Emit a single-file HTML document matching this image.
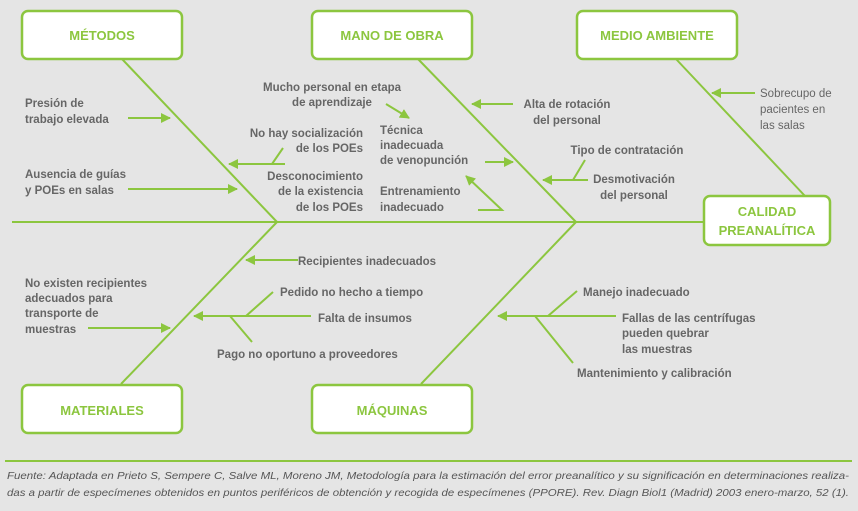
<!DOCTYPE html>
<html><head><meta charset="utf-8"><style>
body{margin:0;background:#e5e5e5;}
svg{display:block;}
text{font-family:"Liberation Sans",sans-serif;}
.t{font-size:11.5px;fill:#666;font-weight:bold;}
.h{font-size:13px;fill:#8cc63f;font-weight:bold;text-anchor:middle;}
.b{fill:#fff;stroke:#8cc63f;stroke-width:2.5;}
.l{stroke:#8cc63f;stroke-width:2;fill:none;}
.f{font-size:10.5px;fill:#555;font-style:italic;}
</style></head><body>
<svg width="858" height="511" viewBox="0 0 858 511">
<defs><marker id="a" viewBox="0 0 10 10" refX="9" refY="5" markerWidth="5" markerHeight="5" orient="auto"><path d="M0,0L10,5L0,10z" fill="#8cc63f"/></marker></defs>
<rect width="858" height="511" fill="#e5e5e5"/>
<line class="l" x1="12" y1="222" x2="704" y2="222"/>
<line class="l" x1="122" y1="59" x2="277" y2="222"/>
<line class="l" x1="418" y1="59" x2="576" y2="222"/>
<line class="l" x1="676" y1="59" x2="805" y2="196"/>
<line class="l" x1="121" y1="384" x2="277" y2="222"/>
<line class="l" x1="421" y1="384" x2="576" y2="222"/>
<rect class="b" x="22" y="11" width="160" height="48" rx="6"/>
<rect class="b" x="312" y="11" width="160" height="48" rx="6"/>
<rect class="b" x="577" y="11" width="160" height="48" rx="6"/>
<rect class="b" x="704" y="196" width="126" height="49" rx="6"/>
<rect class="b" x="22" y="385" width="160" height="48" rx="6"/>
<rect class="b" x="312" y="385" width="160" height="48" rx="6"/>
<text class="h" x="102" y="40">MÉTODOS</text>
<text class="h" x="392" y="40">MANO DE OBRA</text>
<text class="h" x="657" y="40">MEDIO AMBIENTE</text>
<text class="h" x="767" y="216">CALIDAD</text>
<text class="h" x="767" y="235">PREANALÍTICA</text>
<text class="h" x="102" y="415">MATERIALES</text>
<text class="h" x="392" y="415">MÁQUINAS</text>
<line class="l" x1="128" y1="118" x2="170" y2="118" marker-end="url(#a)"/>
<line class="l" x1="128" y1="189" x2="237" y2="189" marker-end="url(#a)"/>
<line class="l" x1="285" y1="164" x2="229" y2="164" marker-end="url(#a)"/>
<line class="l" x1="283" y1="148" x2="272" y2="164"/>
<line class="l" x1="386" y1="104" x2="409" y2="118" marker-end="url(#a)"/>
<line class="l" x1="485" y1="162" x2="513" y2="162" marker-end="url(#a)"/>
<polyline class="l" points="478,210 502,210 466,176" marker-end="url(#a)"/>
<line class="l" x1="513" y1="104" x2="472" y2="104" marker-end="url(#a)"/>
<line class="l" x1="755" y1="93" x2="712" y2="93" marker-end="url(#a)"/>
<line class="l" x1="588" y1="180" x2="543" y2="180" marker-end="url(#a)"/>
<line class="l" x1="585" y1="160" x2="573" y2="180"/>
<line class="l" x1="298" y1="260" x2="246" y2="260" marker-end="url(#a)"/>
<line class="l" x1="311" y1="316" x2="194" y2="316" marker-end="url(#a)"/>
<line class="l" x1="273" y1="292" x2="246" y2="316"/>
<line class="l" x1="230" y1="316" x2="252" y2="342"/>
<line class="l" x1="88" y1="328" x2="170" y2="328" marker-end="url(#a)"/>
<line class="l" x1="616" y1="316" x2="498" y2="316" marker-end="url(#a)"/>
<line class="l" x1="577" y1="291" x2="548" y2="316"/>
<line class="l" x1="535" y1="316" x2="573" y2="363"/>
<text class="t" x="25" y="107">Presión de</text>
<text class="t" x="25" y="123">trabajo elevada</text>
<text class="t" x="25" y="178">Ausencia de guías</text>
<text class="t" x="25" y="194">y POEs en salas</text>
<text class="t" x="363" y="137" text-anchor="end">No hay socialización</text>
<text class="t" x="363" y="152" text-anchor="end">de los POEs</text>
<text class="t" x="363" y="180" text-anchor="end">Desconocimiento</text>
<text class="t" x="363" y="195" text-anchor="end">de la existencia</text>
<text class="t" x="363" y="211" text-anchor="end">de los POEs</text>
<text class="t" x="332" y="91" text-anchor="middle">Mucho personal en etapa</text>
<text class="t" x="332" y="106" text-anchor="middle">de aprendizaje</text>
<text class="t" x="380" y="134">Técnica</text>
<text class="t" x="380" y="149">inadecuada</text>
<text class="t" x="380" y="164">de venopunción</text>
<text class="t" x="380" y="195">Entrenamiento</text>
<text class="t" x="380" y="211">inadecuado</text>
<text class="t" x="567" y="108" text-anchor="middle">Alta de rotación</text>
<text class="t" x="567" y="124" text-anchor="middle">del personal</text>
<text class="t" x="627" y="154" text-anchor="middle">Tipo de contratación</text>
<text class="t" x="634" y="183" text-anchor="middle">Desmotivación</text>
<text class="t" x="634" y="199" text-anchor="middle">del personal</text>
<text class="t" x="760" y="97" style="font-weight:normal">Sobrecupo de</text>
<text class="t" x="760" y="113" style="font-weight:normal">pacientes en</text>
<text class="t" x="760" y="129" style="font-weight:normal">las salas</text>
<text class="t" x="298" y="265">Recipientes inadecuados</text>
<text class="t" x="25" y="287">No existen recipientes</text>
<text class="t" x="25" y="302">adecuados para</text>
<text class="t" x="25" y="317">transporte de</text>
<text class="t" x="25" y="333">muestras</text>
<text class="t" x="280" y="296">Pedido no hecho a tiempo</text>
<text class="t" x="318" y="322">Falta de insumos</text>
<text class="t" x="217" y="358">Pago no oportuno a proveedores</text>
<text class="t" x="583" y="296">Manejo inadecuado</text>
<text class="t" x="622" y="322">Fallas de las centrífugas</text>
<text class="t" x="622" y="337">pueden quebrar</text>
<text class="t" x="622" y="353">las muestras</text>
<text class="t" x="577" y="377">Mantenimiento y calibración</text>
<line x1="5" y1="461" x2="852" y2="461" stroke="#8cc63f" stroke-width="2"/>
<text class="f" x="7" y="479" textLength="842" lengthAdjust="spacingAndGlyphs">Fuente: Adaptada en Prieto S, Sempere C, Salve ML, Moreno JM, Metodología para la estimación del error preanalítico y su significación en determinaciones realiza-</text>
<text class="f" x="7" y="496" textLength="842" lengthAdjust="spacingAndGlyphs">das a partir de especímenes obtenidos en puntos periféricos de obtención y recogida de especímenes (PPORE). Rev. Diagn Biol1 (Madrid) 2003 enero-marzo, 52 (1).</text>
</svg>
</body></html>
